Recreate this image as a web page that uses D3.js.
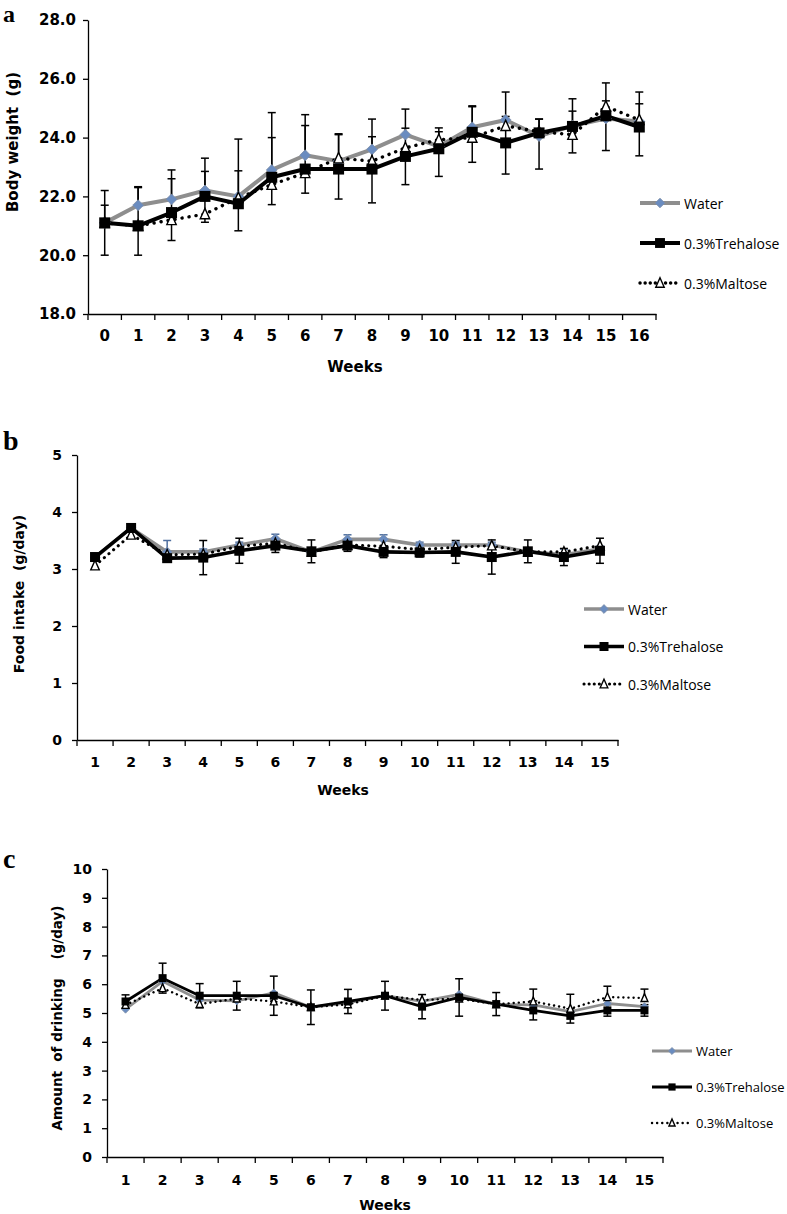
<!DOCTYPE html>
<html><head><meta charset="utf-8">
<script src="https://cdn.jsdelivr.net/npm/d3@7"></script>
<style>body{margin:0;background:#fff}svg{display:block}</style>
</head><body>
<svg id="chart" width="787" height="1214"></svg>
<script>
const seriesNames = ["Water", "0.3%Trehalose", "0.3%Maltose"];

// ---- Panel a: body weight (g)
const weeksA = [0,1,2,3,4,5,6,7,8,9,10,11,12,13,14,15,16];
const yTicksA = [18,20,22,24,26,28];
const waterA = [21.1,21.7,21.9,22.2,22.0,22.9,23.4,23.2,23.6,24.1,23.7,24.35,24.6,24.05,24.4,24.65,24.55];
const trehA  = [21.1,21.0,21.45,22.0,21.75,22.65,22.93,22.93,22.93,23.36,23.62,24.18,23.82,24.16,24.38,24.74,24.36];
const maltA  = [21.1,21.0,21.2,21.4,21.95,22.4,22.8,23.3,23.2,23.65,23.93,24.0,24.4,24.2,24.1,25.06,24.6];
const waterUpA  = [0.6,0.63,1.0,1.1,1.95,1.95,1.38,0.9,1.03,0.87,0.5,0.7,0.95,0.58,0.5,0.6,0.6];
const trehUpA   = [1.1,1.3,1.15,0.85,1.12,1.35,1.48,1.2,1.1,0.96,0.71,0.9,0.9,0.47,0.94,1.12,1.19];
const trehDownA = [1.1,1.0,0.95,0.88,0.92,0.93,0.82,1.02,1.15,0.96,0.94,1.02,1.06,1.23,0.9,1.18,0.98];

// ---- Panel b: food intake (g/day)
const weeksB = [1,2,3,4,5,6,7,8,9,10,11,12,13,14,15];
const yTicksB = [0,1,2,3,4,5];
const waterB = [3.2,3.72,3.3,3.3,3.42,3.53,3.3,3.52,3.52,3.42,3.42,3.42,3.3,3.25,3.35];
const trehB  = [3.21,3.72,3.19,3.2,3.32,3.41,3.31,3.41,3.3,3.29,3.3,3.21,3.31,3.21,3.32];
const maltB  = [3.06,3.6,3.25,3.26,3.4,3.45,3.3,3.42,3.4,3.34,3.38,3.41,3.3,3.3,3.41];
const waterUpB = [0.05,0.05,0.2,0.05,0.05,0.08,0.05,0.08,0.08,0.05,0.05,0.05,0.05,0.1,0.05];
const trehSdB  = [0.05,0.05,0.05,0.3,0.22,0.12,0.2,0.1,0.1,0.08,0.2,0.3,0.2,0.15,0.22];

// ---- Panel c: amount of drinking (g/day)
const weeksC = [1,2,3,4,5,6,7,8,9,10,11,12,13,14,15];
const yTicksC = [0,1,2,3,4,5,6,7,8,9,10];
const waterC = [5.13,6.1,5.45,5.42,5.7,5.2,5.35,5.6,5.4,5.65,5.3,5.28,5.05,5.33,5.22];
const trehC  = [5.4,6.21,5.6,5.6,5.6,5.2,5.4,5.6,5.22,5.54,5.31,5.09,4.9,5.09,5.09];
const maltC  = [5.28,5.86,5.31,5.5,5.4,5.2,5.3,5.6,5.45,5.5,5.3,5.4,5.15,5.55,5.52];
const trehSdC = [0.23,0.52,0.42,0.5,0.68,0.6,0.42,0.5,0.42,0.65,0.4,0.33,0.25,0.2,0.2];
const maltUpC = [0,0,0,0,0,0,0,0,0,0,0,0.43,0.5,0.38,0.31];

const svg = d3.select("#chart");
const NUM_FONT = "'DejaVu Sans', sans-serif";
const LEG_FONT = "'Open Sans', sans-serif";
const GRAY = "#8e8e8e", BLUE = "#6a8cc0";

function drawPanel(p) {
  const g = svg.append("g");
  const x = d3.scaleBand().domain(p.weeks).range([p.x0, p.x1]);
  const y = d3.scaleLinear().domain(p.domain).range([p.yBot, p.yTop]);
  const bw = x.bandwidth();
  const cx = w => x(w) + bw / 2;

  // y axis
  const ya = g.append("g").attr("transform", `translate(${p.x0},0)`)
    .call(d3.axisLeft(y).tickValues(p.yTicks).tickFormat(p.fmt).tickSize(5).tickSizeOuter(0).tickPadding(p.yPad));
  ya.selectAll("path,line").attr("stroke", "#000").attr("stroke-width", 1.3);
  ya.selectAll("text").attr("font-family", NUM_FONT).attr("font-weight", "bold")
    .attr("font-size", p.fs).attr("fill", "#000");

  // x axis (category ticks between bands)
  const xa = g.append("g").attr("transform", `translate(0,${p.yBot})`)
    .call(d3.axisBottom(x).tickSize(0).tickSizeOuter(0).tickPadding(p.xPad));
  xa.select(".domain").attr("stroke", "#000").attr("stroke-width", 1.3);
  xa.selectAll("text").attr("font-family", NUM_FONT).attr("font-weight", "bold")
    .attr("font-size", p.fs).attr("fill", "#000");
  const bounds = p.weeks.map(w => x(w)).concat([x(p.weeks[p.weeks.length - 1]) + bw]);
  xa.selectAll("line.bt").data(bounds).join("line").attr("class", "bt")
    .attr("x1", d => d).attr("x2", d => d).attr("y1", 0).attr("y2", 6)
    .attr("stroke", "#000").attr("stroke-width", 1.3);

  // titles
  g.append("text").text("Weeks").attr("x", p.weeksX).attr("y", p.weeksY)
    .attr("text-anchor", "middle").attr("font-family", NUM_FONT).attr("font-weight", "bold")
    .attr("font-size", p.fs);
  g.append("text").text(p.ytitle).attr("transform", `translate(${p.ytX},${p.ytY}) rotate(-90)`)
    .attr("text-anchor", "middle").attr("dominant-baseline", "central").attr("font-family", NUM_FONT)
    .attr("font-weight", "bold").attr("font-size", p.ytFs).style("white-space", "pre");
  g.append("text").text(p.letter).attr("x", 3).attr("y", p.letterY)
    .attr("font-family", "'Liberation Serif', serif").attr("font-weight", "bold").attr("font-size", p.letterFs);

  // error bars
  const cap = p.cap;
  p.errs.forEach(e => {
    p.weeks.forEach((w, i) => {
      const v = e.values[i];
      const up = e.up ? e.up[i] : 0, dn = e.down ? e.down[i] : 0;
      if (!up && !dn) return;
      const X = cx(w), y1 = y(v + (up || 0)), y2 = y(v - (dn || 0));
      g.append("line").attr("x1", X).attr("x2", X).attr("y1", y1).attr("y2", y2)
        .attr("stroke", e.color).attr("stroke-width", 1.5);
      if (up) g.append("line").attr("x1", X - cap).attr("x2", X + cap).attr("y1", y1).attr("y2", y1)
        .attr("stroke", e.color).attr("stroke-width", 1.5);
      if (dn) g.append("line").attr("x1", X - cap).attr("x2", X + cap).attr("y1", y2).attr("y2", y2)
        .attr("stroke", e.color).attr("stroke-width", 1.5);
    });
  });

  const line = vals => d3.line().x((d, i) => cx(p.weeks[i])).y(d => y(d))(vals);
  const styles = [
    { vals: p.water, stroke: GRAY, dash: null, w: p.lw, marker: "diamond" },
    { vals: p.malt, stroke: "#000", dash: `0.1 ${p.dotGap}`, w: p.lw * 0.85, marker: "triangle" },
    { vals: p.treh, stroke: "#000", dash: null, w: p.lw, marker: "square" }
  ];
  styles.forEach(s => {
    g.append("path").attr("d", line(s.vals)).attr("fill", "none").attr("stroke", s.stroke)
      .attr("stroke-width", s.w).attr("stroke-linejoin", "round")
      .attr("stroke-linecap", s.dash ? "round" : "butt")
      .attr("stroke-dasharray", s.dash);
  });
  const drawMarker = (sel, kind, X, Y, ms) => {
    if (kind === "diamond") {
      const r = ms * 0.52;
      sel.append("path").attr("d", `M${X},${Y - r}L${X + r},${Y}L${X},${Y + r}L${X - r},${Y}Z`)
        .attr("fill", BLUE).attr("stroke", "#7f8fa8").attr("stroke-width", 0.8);
    } else if (kind === "square") {
      sel.append("rect").attr("x", X - ms / 2).attr("y", Y - ms / 2).attr("width", ms).attr("height", ms).attr("fill", "#000");
    } else {
      const h = ms * 0.9;
      sel.append("path").attr("d", `M${X},${Y - h / 2 - 1}L${X + h / 2},${Y + h / 2}L${X - h / 2},${Y + h / 2}Z`)
        .attr("fill", "#fff").attr("stroke", "#000").attr("stroke-width", 1.4);
    }
  };
  styles.forEach(s => {
    s.vals.forEach((v, i) => drawMarker(g, s.marker, cx(p.weeks[i]), y(v), s.marker === "square" ? p.ms : p.ms * 0.95));
  });

  // legend
  const legStyles = [styles[0], styles[2], styles[1]];
  seriesNames.forEach((name, k) => {
    const s = legStyles[k];
    const ly = p.legY + k * p.legDy;
    g.append("line").attr("x1", p.legX).attr("x2", p.legX + 40).attr("y1", ly).attr("y2", ly)
      .attr("stroke", s.stroke).attr("stroke-width", s.w)
      .attr("stroke-linecap", s.dash ? "round" : "butt").attr("stroke-dasharray", s.dash ? "0.1 5" : null);
    drawMarker(g, s.marker, p.legX + 20, ly, s.marker === "square" ? p.ms * 0.9 : p.ms * 0.85);
    g.append("text").text(name).attr("x", p.legX + 44).attr("y", ly).attr("dominant-baseline", "central")
      .attr("font-family", LEG_FONT).attr("font-size", p.legFs).attr("fill", "#000");
  });
}

drawPanel({
  weeks: weeksA, domain: [18, 28], yTicks: yTicksA, fmt: d3.format(".1f"),
  x0: 88, x1: 656, yTop: 20, yBot: 314, fs: 15, yPad: 7, xPad: 16,
  water: waterA, treh: trehA, malt: maltA,
  errs: [
    { values: waterA, up: waterUpA, down: null, color: "#000" },
    { values: trehA, up: trehUpA, down: trehDownA, color: "#000" }
  ],
  cap: 4, lw: 4, ms: 11, dotGap: 7,
  weeksX: 355, weeksY: 372, ytitle: "Body weight  (g)", ytX: 13, ytY: 142, ytFs: 15,
  letter: "a", letterY: 22, letterFs: 24,
  legX: 640, legY: 203, legDy: 40, legFs: 14
});

drawPanel({
  weeks: weeksB, domain: [0, 5], yTicks: yTicksB, fmt: d3.format("d"),
  x0: 77, x1: 618, yTop: 455, yBot: 740, fs: 14, yPad: 10, xPad: 17,
  water: waterB, treh: trehB, malt: maltB,
  errs: [
    { values: waterB, up: waterUpB, down: null, color: "#4f6f9f" },
    { values: trehB, up: trehSdB, down: trehSdB, color: "#000" }
  ],
  cap: 4, lw: 3.6, ms: 10, dotGap: 6,
  weeksX: 343, weeksY: 795, ytitle: "Food intake  (g/day)", ytX: 19, ytY: 594, ytFs: 14,
  letter: "b", letterY: 450, letterFs: 28,
  legX: 584, legY: 609, legDy: 37.5, legFs: 14
});

drawPanel({
  weeks: weeksC, domain: [0, 10], yTicks: yTicksC, fmt: d3.format("d"),
  x0: 107, x1: 663, yTop: 869, yBot: 1157, fs: 14, yPad: 10, xPad: 18,
  water: waterC, treh: trehC, malt: maltC,
  errs: [
    { values: maltC, up: maltUpC, down: null, color: "#000" },
    { values: trehC, up: trehSdC, down: trehSdC, color: "#000" }
  ],
  cap: 4, lw: 2.8, ms: 8, dotGap: 5,
  weeksX: 385, weeksY: 1210, ytitle: "Amount  of drinking    (g/day)", ytX: 57, ytY: 1018, ytFs: 13.5,
  letter: "c", letterY: 868, letterFs: 28,
  legX: 652, legY: 1051, legDy: 36, legFs: 13
});
</script>
</body></html>
